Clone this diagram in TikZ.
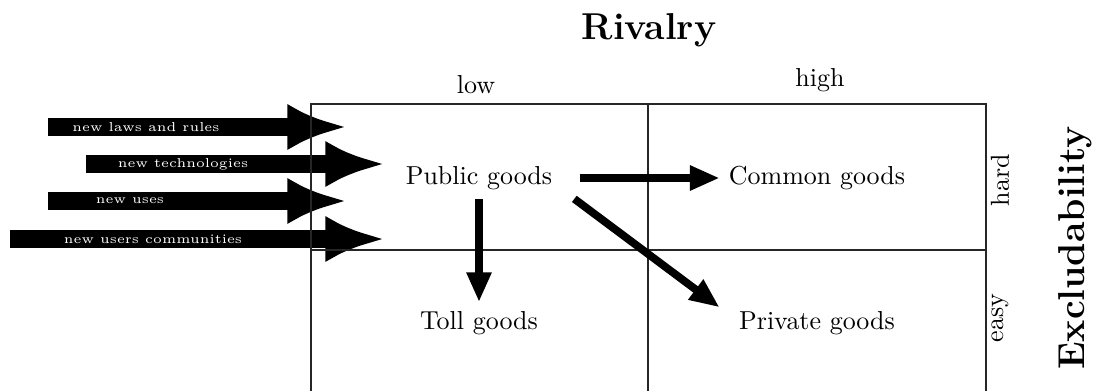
\documentclass[tikz,border=0pt]{standalone}
\usepackage{tikz}
\usetikzlibrary{positioning,arrows.meta,calc}

\begin{document}
\begin{tikzpicture}[x=0.385pt, y=-0.385pt,
    grid/.style={line width=0.5pt, black!85},
    flow/.style={line width=3pt, -{Triangle[length=11.5pt, width=9pt]}},
    push/.style={line width=6.9pt, -{Latex[length=23pt, width=18pt]}},
    pushlabel/.style={text=white, font=\tiny, inner sep=0pt}]
  \useasboundingbox (0,0) rectangle (1095,390);
  \clip (0,0) rectangle (1095,390);
  % forces pushing on the public goods
  \coordinate (s1) at (48,127);  \coordinate (t1) at (347,127);
  \coordinate (s2) at (86,164);  \coordinate (t2) at (385,164);
  \coordinate (s3) at (48,201);  \coordinate (t3) at (347,201);
  \coordinate (s4) at (10,239);  \coordinate (t4) at (385,239);
  \draw[push] (s1) -- (t1);
  \draw[push] (s2) -- (t2);
  \draw[push] (s3) -- (t3);
  \draw[push] (s4) -- (t4);
  \node[pushlabel] (laws)  at (146,127) {new laws and rules};
  \node[pushlabel] (techs) at (183,164) {new technologies};
  \node[pushlabel] (uses)  at (130,201) {new uses};
  \node[pushlabel] (users) at (153,239) {new users communities};
  % the two by two table
  \draw[grid] (311,104) rectangle (986,396);
  \draw[grid] (648,104) -- (648,396);
  \draw[grid] (311,250) -- (986,250);
  % axes
  \node[font=\Large\bfseries] (rivalry) at (649,30) {Rivalry};
  \node (low)  at (476,85) {low};
  \node (high) at (820,80) {high};
  \node[rotate=90] (hard) at (1000,180) {hard};
  \node[rotate=90] (easy) at (1000,318) {easy};
  \node[rotate=90, font=\Large\bfseries] (excl) at (1075,248) {Excludability};
  % goods
  \node (public)  at (479,178) {Public goods};
  \node (common)  at (817,178) {Common goods};
  \node (toll)    at (479,323) {Toll goods};
  \node (private) at (817,323) {Private goods};
  \draw[flow] ([xshift=7pt]public.east) -- (common.west);
  \draw[flow] (public.south) -- (toll.north);
  \draw[flow] ([xshift=5pt]public.south east) -- ([xshift=-4pt,yshift=-2pt]private.north west);
\end{tikzpicture}
\end{document}
